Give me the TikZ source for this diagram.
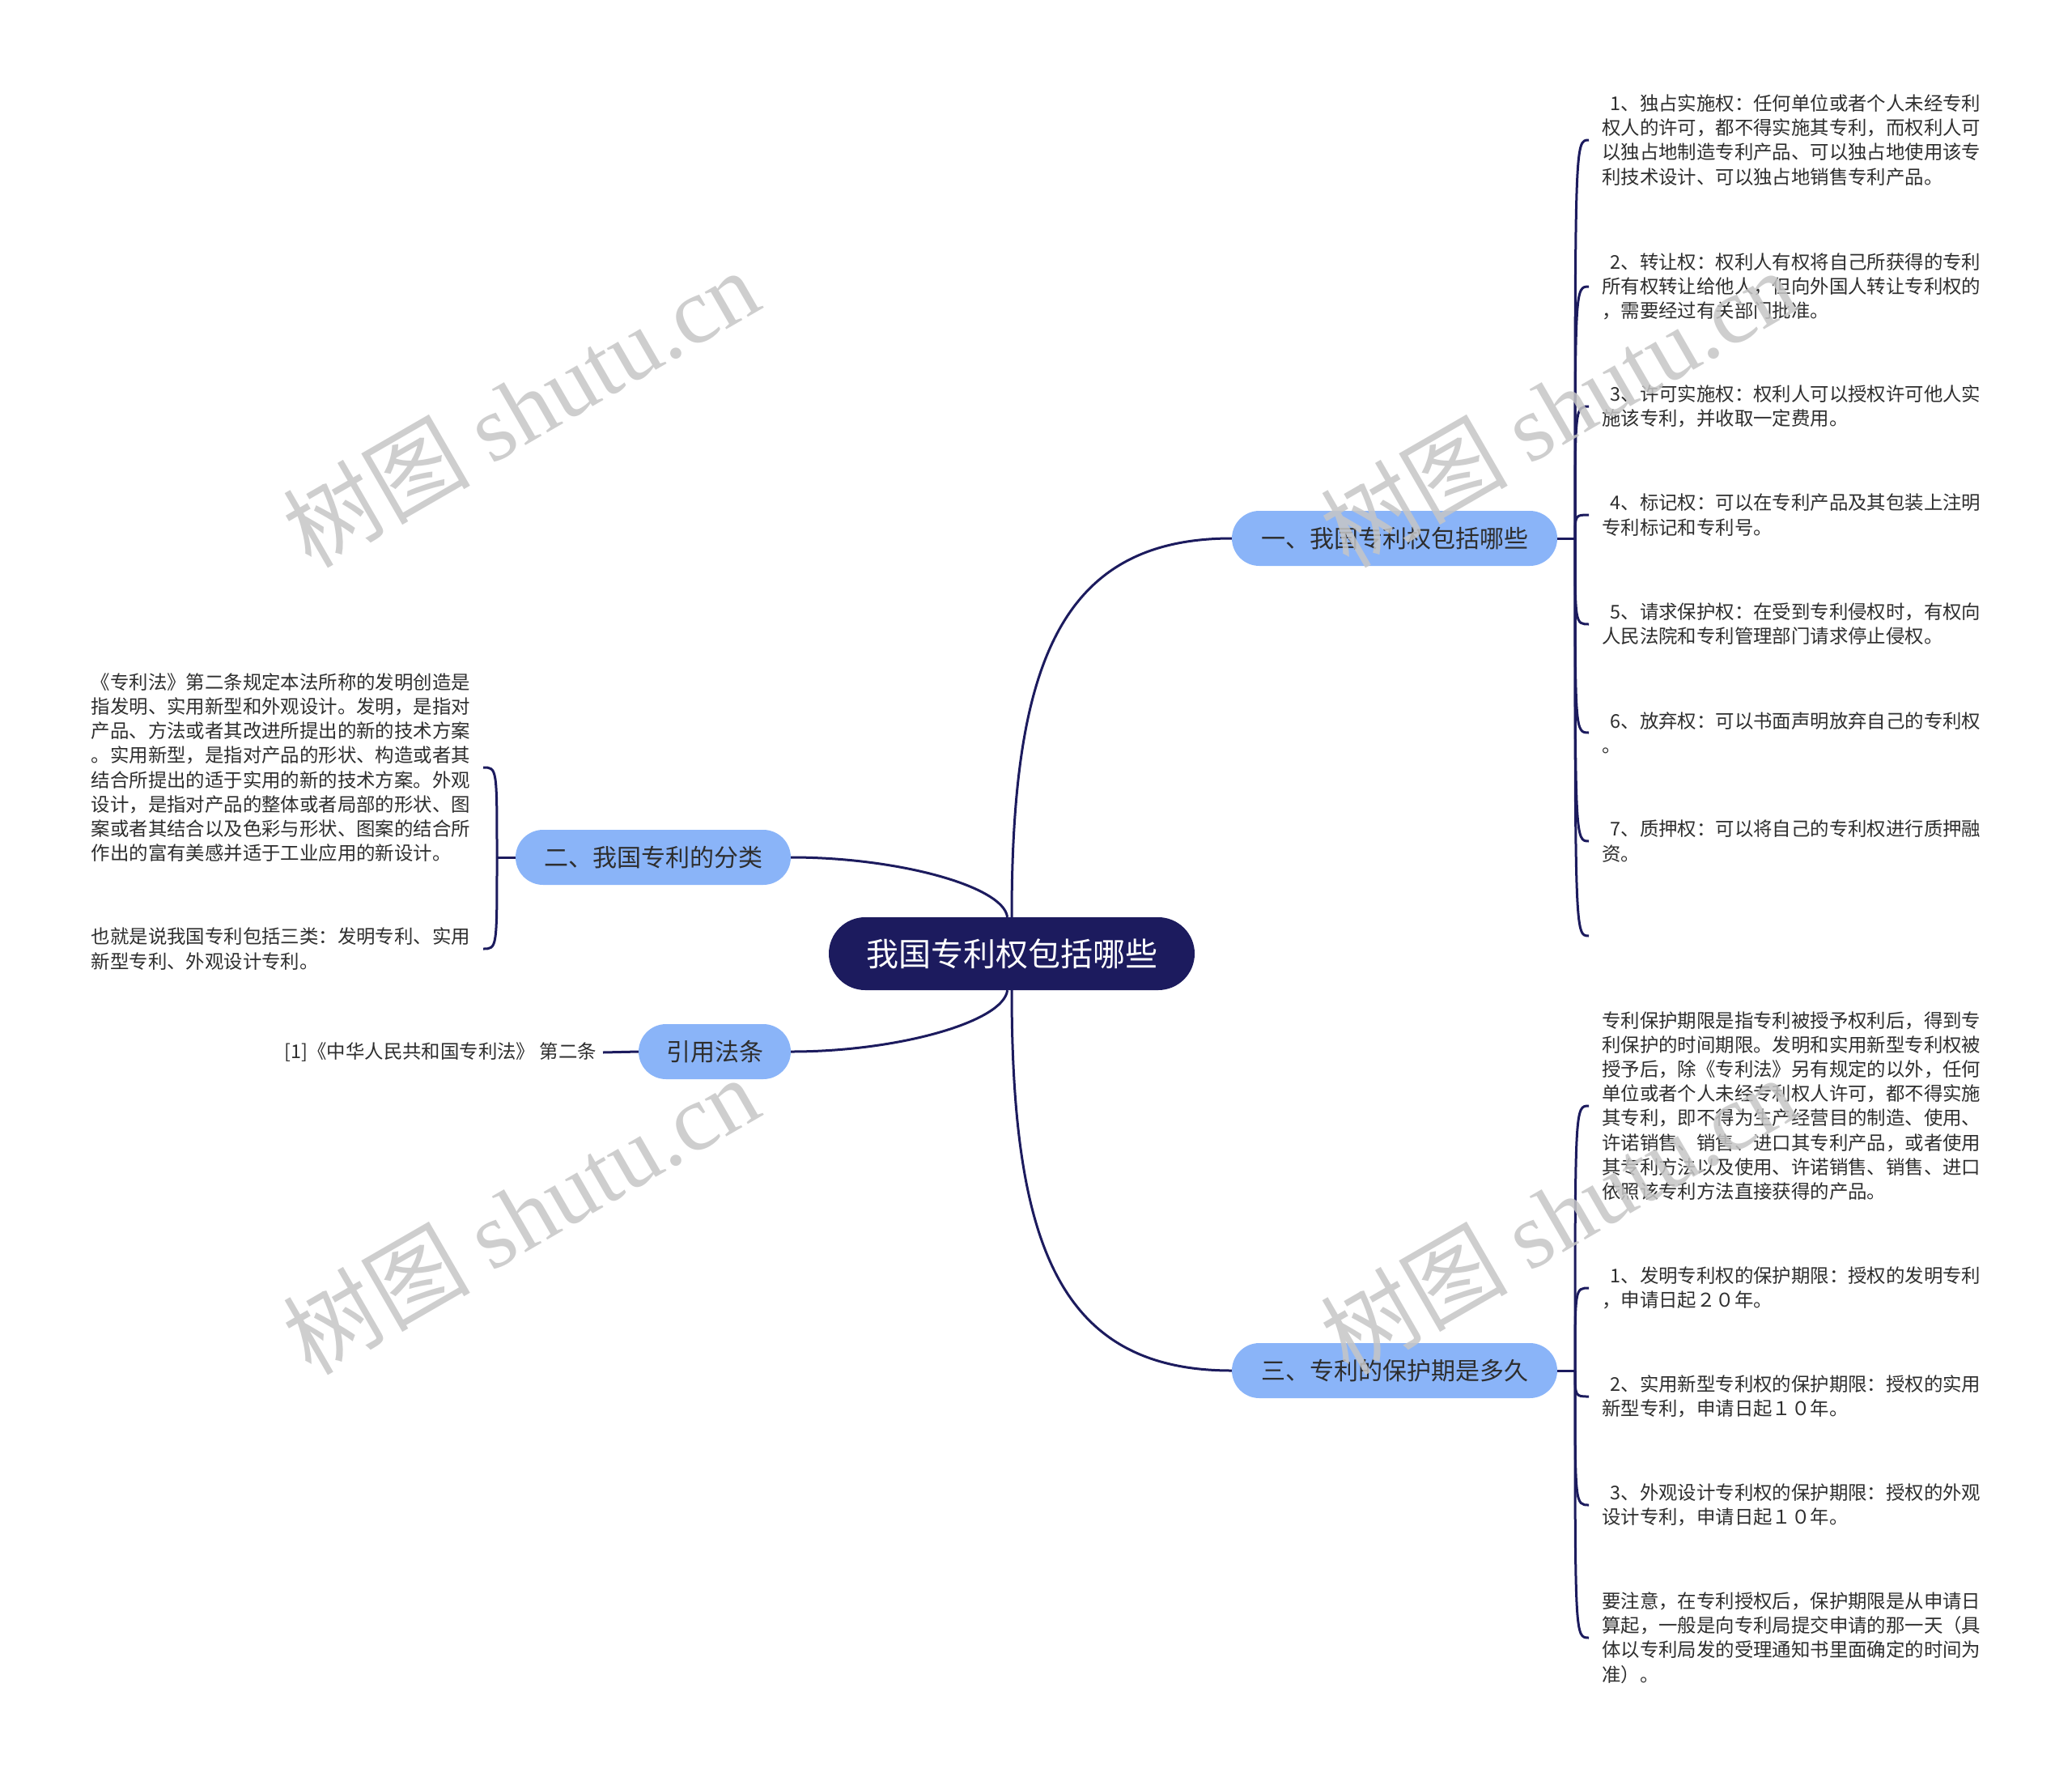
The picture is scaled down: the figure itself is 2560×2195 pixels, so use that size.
\documentclass[tikz,border=0pt]{standalone}
\usepackage{fontspec}
\setmainfont{Noto Sans CJK SC}
\newfontfamily\wmfont{Liberation Serif}
\definecolor{navy}{HTML}{1C1B5E}
\definecolor{topicblue}{HTML}{8AB4F8}
\definecolor{inkgray}{HTML}{2E2E2E}
\tikzset{
	rootbox/.style={fill=navy, text=white, rounded corners=45pt, minimum width=452pt, minimum height=90pt, font=\fontsize{40}{48}\selectfont},
	topicbox/.style={fill=topicblue, text=inkgray, rounded corners=34pt, minimum height=68pt, font=\fontsize{30}{36}\selectfont},
	leafr/.style={anchor=west, align=left, inner xsep=16pt, inner ysep=0pt, text=inkgray, font=\fontsize{23.4}{30.2}\selectfont},
	leafl/.style={leafr, anchor=east},
	link/.style={draw=navy, line width=3pt},
	wmark/.style={rotate=30, text=gray!45, opacity=0.85, font=\fontsize{116}{116}\selectfont}
}
\newcommand{\nb}[1]{\hspace{0.45em}#1}
\begin{document}
\begin{tikzpicture}[x=1pt, y=-1pt]
	\useasboundingbox (0, 0) rectangle (2560, 2195);
	\node[rootbox] at (1250, 1178) (root) {我国专利权包括哪些};
	\node[topicbox, minimum width=402pt] at (1723, 665) (t1) {一、我国专利权包括哪些};
	\node[topicbox, minimum width=340pt] at (807, 1059) (t2) {二、我国专利的分类};
	\node[topicbox, minimum width=402pt] at (1723, 1693) (t3) {三、专利的保护期是多久};
	\node[topicbox, minimum width=188pt] at (883, 1299) (t4) {引用法条};
	\draw[link] (root) .. controls (1250, 820) and (1310, 665) .. (t1.west);
	\draw[link] (t2.east) .. controls (1110, 1059) and (1240, 1095) .. (root);
	\draw[link] (root) .. controls (1250, 1540) and (1310, 1693) .. (t3.west);
	\draw[link] (t4.east) .. controls (1110, 1299) and (1240, 1262) .. (root);
	\node[leafr] at (1963, 173) (r1) {\nb{1}、独占实施权：任何单位或者个人未经专利\\权人的许可，都不得实施其专利，而权利人可\\以独占地制造专利产品、可以独占地使用该专\\利技术设计、可以独占地销售专利产品。};
	\node[leafr] at (1963, 354) (r2) {\nb{2}、转让权：权利人有权将自己所获得的专利\\所有权转让给他人，但向外国人转让专利权的\\，需要经过有关部门批准。};
	\node[leafr] at (1963, 502) (r3) {\nb{3}、许可实施权：权利人可以授权许可他人实\\施该专利，并收取一定费用。};
	\node[leafr] at (1963, 636) (r4) {\nb{4}、标记权：可以在专利产品及其包装上注明\\专利标记和专利号。};
	\node[leafr] at (1963, 771) (r5) {\nb{5}、请求保护权：在受到专利侵权时，有权向\\人民法院和专利管理部门请求停止侵权。};
	\node[leafr] at (1963, 905) (r6) {\nb{6}、放弃权：可以书面声明放弃自己的专利权\\。};
	\node[leafr] at (1963, 1039) (r7) {\nb{7}、质押权：可以将自己的专利权进行质押融\\资。};
	\coordinate (r8) at (1963, 1156);
	\coordinate (j1) at (1946, 665);
	\draw[link] (t1.east) -- (j1);
	\foreach \n in {r1, r2, r3, r4, r5, r6, r7}
		\draw[link] (j1) .. controls (j1 |- \n.west) .. (\n.west);
	\draw[link] (j1) .. controls (j1 |- r8) .. (r8);
	\node[leafl] at (597, 948) (a1) {《专利法》第二条规定本法所称的发明创造是\\指发明、实用新型和外观设计。发明，是指对\\产品、方法或者其改进所提出的新的技术方案\\。实用新型，是指对产品的形状、构造或者其\\结合所提出的适于实用的新的技术方案。外观\\设计，是指对产品的整体或者局部的形状、图\\案或者其结合以及色彩与形状、图案的结合所\\作出的富有美感并适于工业应用的新设计。};
	\node[leafl] at (597, 1172) (a2) {也就是说我国专利包括三类：发明专利、实用\\新型专利、外观设计专利。};
	\coordinate (j2) at (614, 1059);
	\draw[link] (t2.west) -- (j2);
	\foreach \n in {a1, a2}
		\draw[link] (j2) .. controls (j2 |- \n.east) .. (\n.east);
	\node[leafl, inner xsep=8pt] at (745, 1300) (c1) {[1]《中华人民共和国专利法》 第二条};
	\draw[link] (t4.west) -- (c1.east);
	\node[leafr] at (1963, 1366) (s1) {专利保护期限是指专利被授予权利后，得到专\\利保护的时间期限。发明和实用新型专利权被\\授予后，除《专利法》另有规定的以外，任何\\单位或者个人未经专利权人许可，都不得实施\\其专利，即不得为生产经营目的制造、使用、\\许诺销售、销售、进口其专利产品，或者使用\\其专利方法以及使用、许诺销售、销售、进口\\依照该专利方法直接获得的产品。};
	\node[leafr] at (1963, 1591) (s2) {\nb{1}、发明专利权的保护期限：授权的发明专利\\，申请日起２０年。};
	\node[leafr] at (1963, 1725) (s3) {\nb{2}、实用新型专利权的保护期限：授权的实用\\新型专利，申请日起１０年。};
	\node[leafr] at (1963, 1859) (s4) {\nb{3}、外观设计专利权的保护期限：授权的外观\\设计专利，申请日起１０年。};
	\node[leafr] at (1963, 2023) (s5) {要注意，在专利授权后，保护期限是从申请日\\算起，一般是向专利局提交申请的那一天（具\\体以专利局发的受理通知书里面确定的时间为\\准）。};
	\coordinate (j3) at (1946, 1693);
	\draw[link] (t3.east) -- (j3);
	\foreach \n in {s1, s2, s3, s4, s5}
		\draw[link] (j3) .. controls (j3 |- \n.west) .. (\n.west);
	\node[wmark] at (643, 503) (w1) {树图 {\wmfont shutu.cn}};
	\node[wmark] at (643, 1500) (w2) {树图 {\wmfont shutu.cn}};
	\node[wmark] at (1925, 503) (w3) {树图 {\wmfont shutu.cn}};
	\node[wmark] at (1925, 1500) (w4) {树图 {\wmfont shutu.cn}};
\end{tikzpicture}
\end{document}
